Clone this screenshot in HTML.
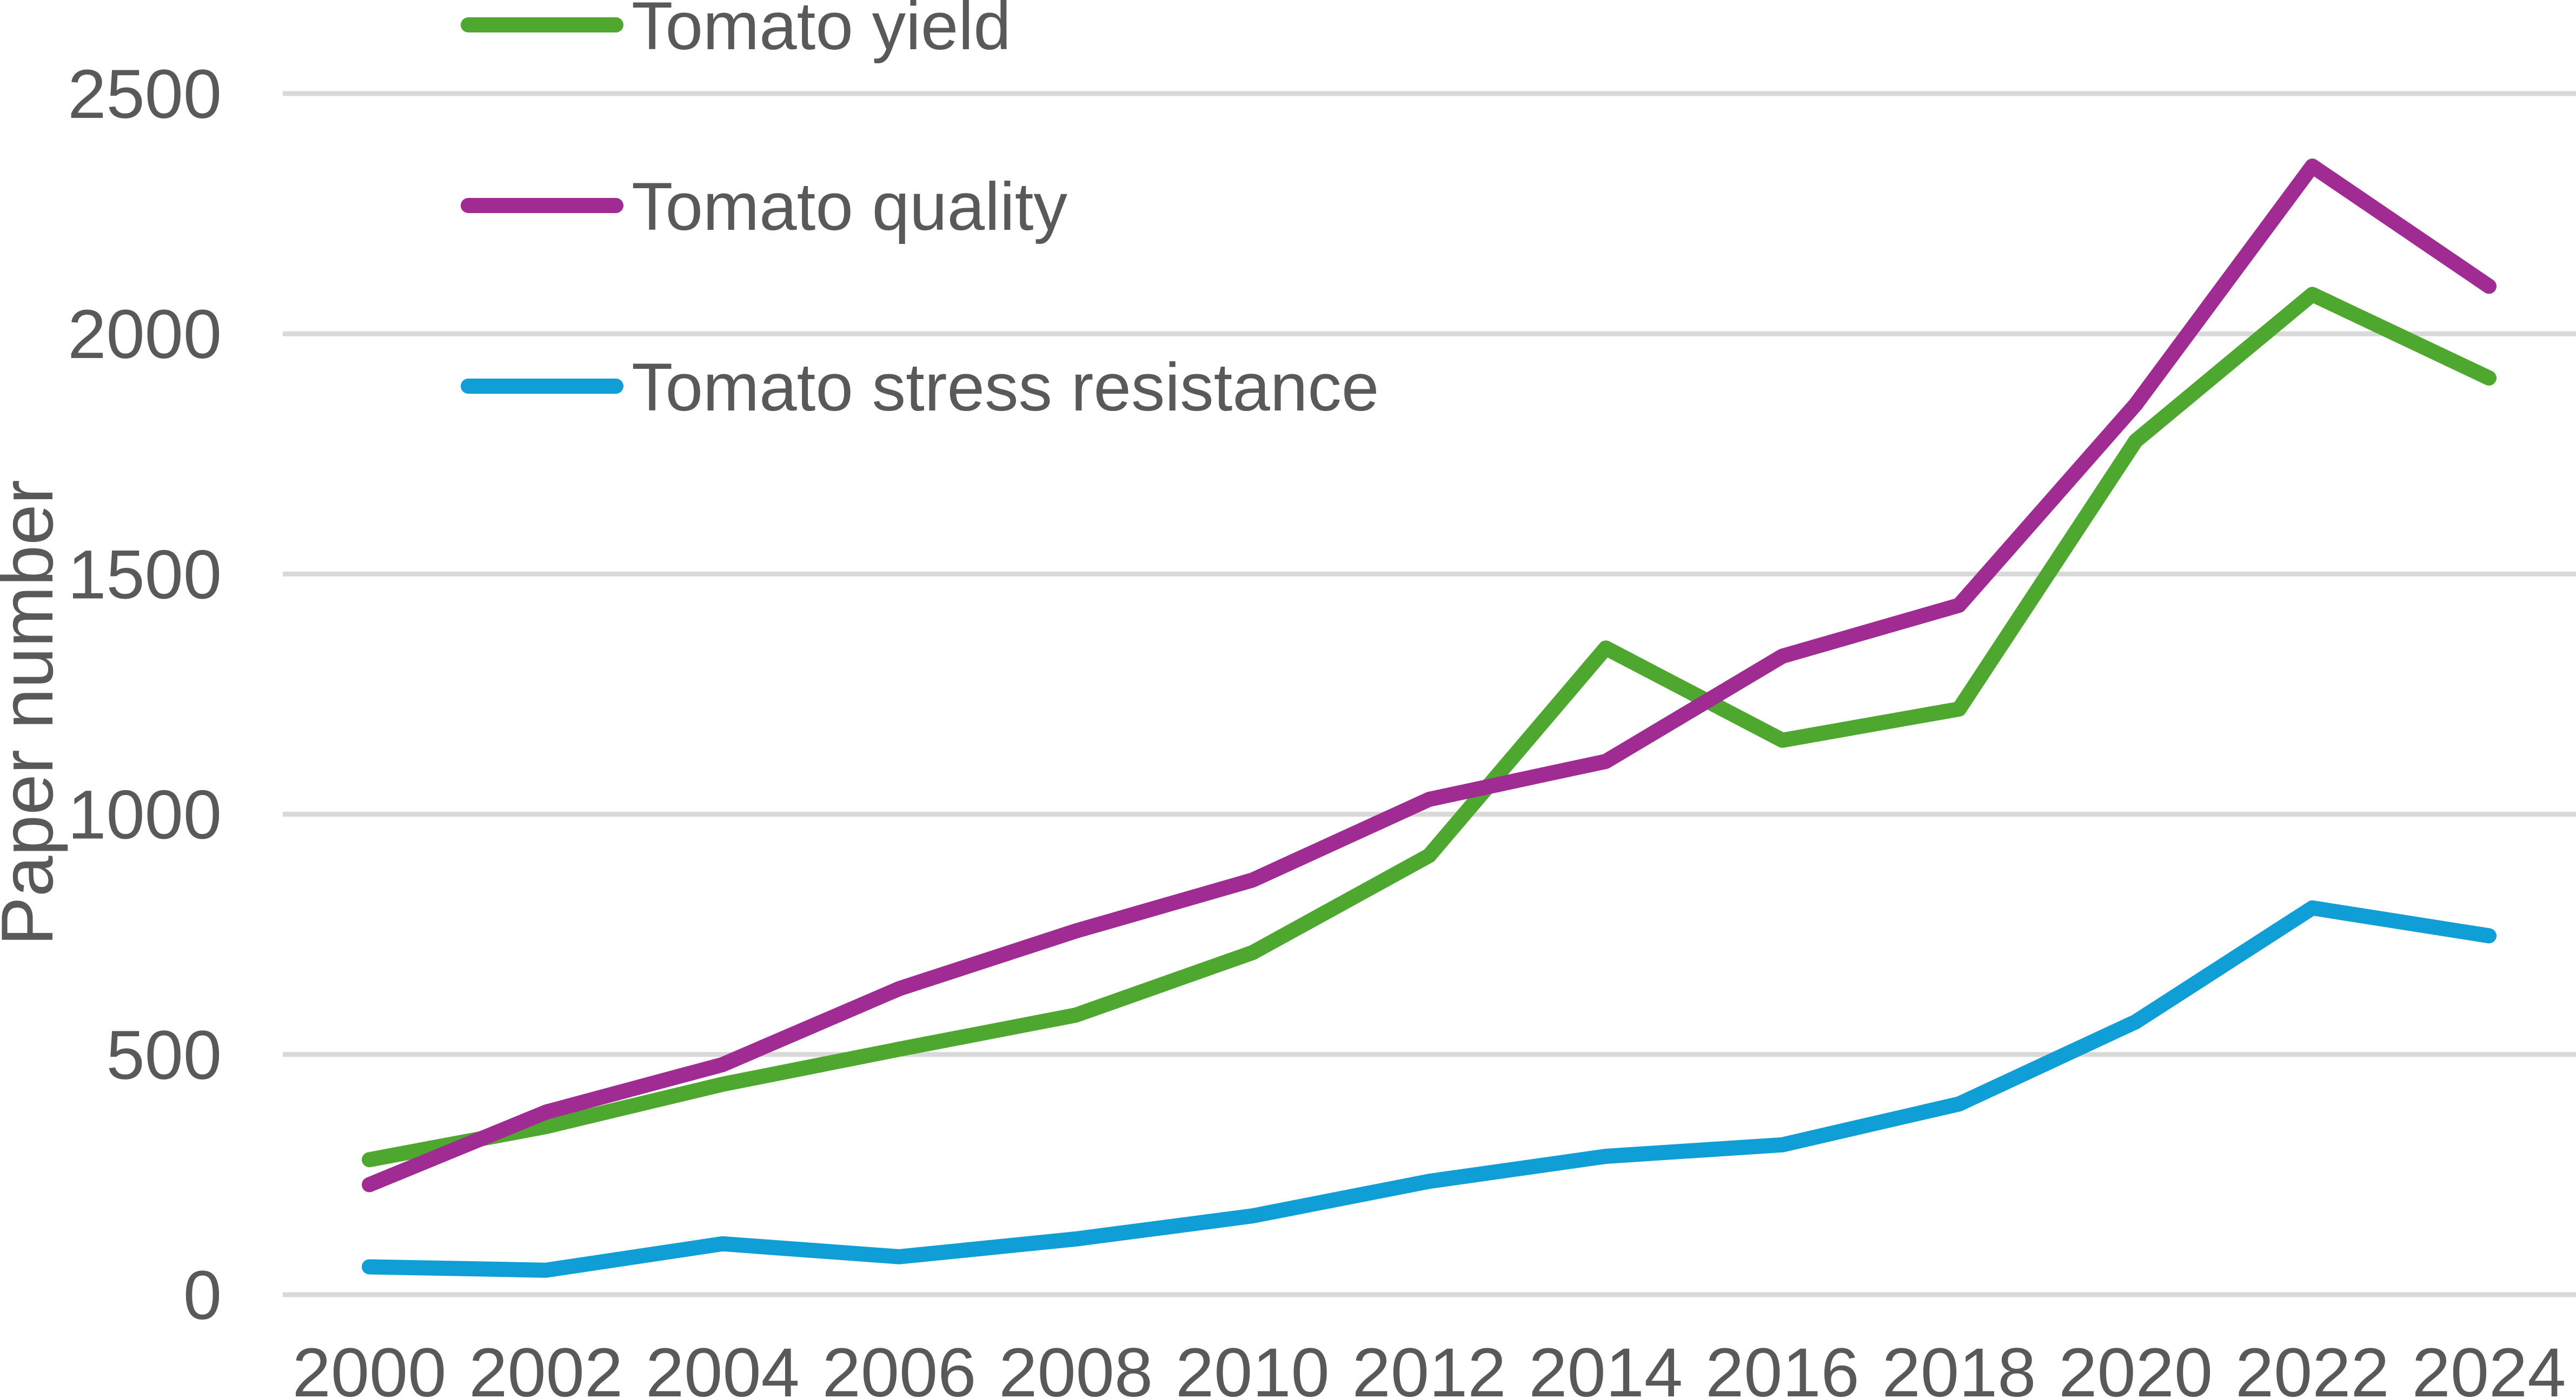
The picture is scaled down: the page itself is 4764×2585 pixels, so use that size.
<!DOCTYPE html>
<html><head><meta charset="utf-8"><style>
html,body{margin:0;padding:0;background:#fff;}
svg{display:block;font-family:"Liberation Sans",Arial,sans-serif;}
</style></head><body>
<svg id="chart" width="4764" height="2585" viewBox="0 0 4764 2585" xmlns="http://www.w3.org/2000/svg">
<g id="grid"></g>
<g id="yticks"></g>
<g id="xticks"></g>
<g id="series"></g>
<text x="0" y="0" transform="translate(97,1318) rotate(-90)" text-anchor="middle" font-size="136" fill="#595959">Paper number</text>
<g id="legend"></g>
</svg>
<script>
const years = ["2000","2002","2004","2006","2008","2010","2012","2014","2016","2018","2020","2022","2024"];
const yieldVals = [281,350,438,511,582,712,914,1346,1154,1219,1777,2082,1908];
const qualityVals = [229,380,479,637,757,863,1031,1110,1329,1435,1853,2349,2099];
const stressVals = [58,51,106,79,116,164,236,288,312,397,568,805,747];
const yTicks = [0,500,1000,1500,2000,2500];
const seriesNames = ["Tomato yield","Tomato quality","Tomato stress resistance"];

const NS="http://www.w3.org/2000/svg";
const x0=683, x1=4603, yBase=2394, yTop=173, yMax=2500;
const xs = i => x0 + (x1-x0)*i/(years.length-1);
const ys = v => yBase - (yBase-yTop)*v/yMax;
function mk(tag, attrs, parent){const e=document.createElementNS(NS,tag);for(const k in attrs)e.setAttribute(k,attrs[k]);parent.appendChild(e);return e;}
const grid=document.getElementById('grid'), yt=document.getElementById('yticks'), xt=document.getElementById('xticks'), ser=document.getElementById('series'), leg=document.getElementById('legend');
yTicks.forEach(t=>{
  const l=mk('line',{x1:523,x2:4764,y1:ys(t),y2:ys(t),stroke:'#d9d9d9','stroke-width':9},grid);
  
  
  const tx=mk('text',{x:410,y:ys(t)+45,'text-anchor':'end','font-size':128,fill:'#595959'},yt);
  tx.textContent=t;
  
  
});
years.forEach((y,i)=>{
  const tx=mk('text',{x:xs(i),y:2582,'text-anchor':'middle','font-size':128,fill:'#595959'},xt);
  tx.textContent=y;
  
  
});
const data=[yieldVals,qualityVals,stressVals];
const colors=["#4ea72e","#a02b93","#0f9ed5"];
const keys=["tomato-yield","tomato-quality","tomato-stress-resistance"];
data.forEach((vals,s)=>{
  const p=mk('polyline',{points:vals.map((v,i)=>xs(i)+','+ys(v)).join(' '),fill:'none',stroke:colors[s],'stroke-width':28,'stroke-linecap':'round','stroke-linejoin':'round'},ser);
  
  
});
const legY=[46,380,714];
seriesNames.forEach((n,s)=>{
  const g=mk('g',{},leg);
  
  
  mk('line',{x1:866,x2:1139,y1:legY[s],y2:legY[s],stroke:colors[s],'stroke-width':28,'stroke-linecap':'round'},g);
  const t=mk('text',{x:1168,y:legY[s]+45,'font-size':125,fill:'#595959'},g);
  t.textContent=n;
});
</script>
</body></html>
